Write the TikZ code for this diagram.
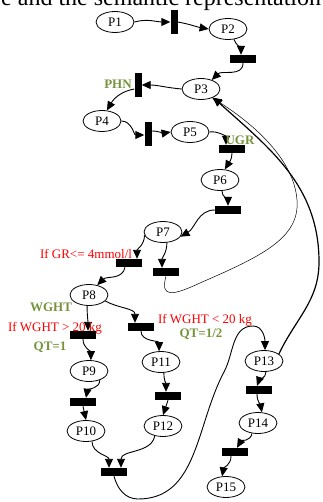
\documentclass[tikz,border=0pt]{standalone}
\usepackage{fontspec}
\setmainfont{Liberation Serif}
\usetikzlibrary{arrows.meta}
\usetikzlibrary{shapes.geometric}
\definecolor{condred}{RGB}{255,0,0}
\definecolor{vargreen}{RGB}{119,147,60}

\begin{document}
\begin{tikzpicture}[x=1pt,y=-1pt,
    pl/.style={draw,ellipse,line width=0.8pt,minimum width=38pt,minimum height=21pt,inner sep=0pt,font=\fontsize{13}{15}\selectfont},
    trh/.style={fill=black,inner sep=0pt,minimum width=26pt,minimum height=8pt},
    trv/.style={fill=black,inner sep=0pt,minimum width=7pt,minimum height=24pt},
    flow/.style={line width=0.9pt,-{Triangle[length=9pt,width=8pt]}},
    cond/.style={text=condred,inner sep=0pt,font=\fontsize{13}{15}\selectfont},
    var/.style={text=vargreen,inner sep=0pt,font=\fontsize{13}{15}\selectfont\bfseries}]
\useasboundingbox (0,0) rectangle (323,502);

\newcommand{\pnplace}[3]{
    \node[pl] (#1) at (#2) {#3};
}
\newcommand{\flowedge}[4]{
    \draw[flow] (#1) to[out=#3,in=#4] (#2);
}

% text line of the page above
\begin{scope}
\clip (0,0) rectangle (323,502);
\node[anchor=base west,inner sep=0pt,font=\fontsize{24}{28}\selectfont] (cap) at (1,6) {e and the semantic representation};
\end{scope}

% places
\pnplace{p1}{115,22}{P1}
\pnplace{p2}{228,29}{P2}
\pnplace{p3}{201,89}{P3}
\pnplace{p4}{102,121}{P4}
\pnplace{p5}{190,132}{P5}
\pnplace{p6}{220,180}{P6}
\pnplace{p7}{163,232}{P7}
\pnplace{p8}{89,295}{P8}
\pnplace{p9}{89,371}{P9}
\pnplace{p10}{86,431}{P10}
\pnplace{p11}{161,362}{P11}
\pnplace{p12}{163,426}{P12}
\pnplace{p13}{264,361}{P13}
\pnplace{p14}{258,423}{P14}
\pnplace{p15}{226,487}{P15}

% transitions
\node[trv] (t1) at (174,22) {};
\node[trh] (t2) at (243,59) {};
\node[trv] (t3) at (138,85) {};
\node[trv] (t4) at (148,134) {};
\node[trh] (t5) at (232,149) {};
\node[trh] (t6) at (228,210) {};
\node[trh] (t7a) at (129,263) {};
\node[trh] (t7b) at (166,272) {};
\node[trh] (t8a) at (83,335) {};
\node[trh] (t8b) at (141,327) {};
\node[trh] (t9) at (83,402) {};
\node[trh] (t11) at (168,396) {};
\node[trh] (t12) at (114,472) {};
\node[trh] (t13) at (259,390) {};
\node[trh] (t14) at (235,452) {};

% arcs
\flowedge{p1.east}{t1.west}{15}{180}
\flowedge{t1.east}{p2.west}{-10}{170}
\flowedge{p2.-60}{[xshift=-2pt]t2.north}{-70}{90}
\flowedge{t2.south}{p3.40}{-90}{45}
\flowedge{p3.west}{t3.east}{175}{0}
\flowedge{[yshift=-4pt]t3.west}{p4.65}{190}{60}
\flowedge{p4.east}{[yshift=-1pt]t4.west}{0}{180}
\flowedge{[yshift=3pt]t4.east}{p5.west}{0}{190}
\flowedge{p5.east}{[xshift=-6pt]t5.north}{10}{90}
\flowedge{t5.south}{p6.65}{-90}{60}
\flowedge{p6.-80}{t6.north}{-90}{90}
\flowedge{t6.west}{p7.-15}{180}{30}
\flowedge{p7.190}{[xshift=8pt]t7a.north}{-90}{90}
\flowedge{p7.-70}{[xshift=-4pt]t7b.north}{-90}{90}
\flowedge{[xshift=-4pt]t7a.south}{p8.50}{-100}{45}
\flowedge{p8.-100}{[xshift=5pt]t8a.north}{-90}{90}
\flowedge{p8.-20}{[xshift=-6pt]t8b.north}{-30}{90}
\flowedge{t8a.south}{p9.80}{-90}{90}
\flowedge{t8b.south}{p11.100}{-90}{90}
\flowedge{p9.-40}{[xshift=3pt]t9.north}{-90}{80}
\draw[flow] (t9.south) -- (p10.north);
\flowedge{p11.-75}{[xshift=-2pt]t11.north}{-90}{90}
\draw[flow] (t11.south) -- (p12.north);
\flowedge{p10.-60}{[xshift=-5pt]t12.north}{-90}{90}
\flowedge{p12.-130}{[xshift=7pt]t12.north}{-100}{90}
\flowedge{p13.-80}{[xshift=-2pt]t13.north}{-90}{70}
\flowedge{[xshift=-2pt]t13.south}{p14.70}{-90}{100}
\flowedge{p14.-120}{[xshift=2pt]t14.north}{-100}{60}
\flowedge{[xshift=-4pt]t14.south}{p15.110}{-90}{80}

% loops back to P3
\draw[line width=0.5pt,-{Triangle[length=9pt,width=8pt]}] (t7b.south)
    .. controls (160,298) and (172,296) .. (200,283)
    .. controls (262,256) and (300,238) .. (297,200)
    .. controls (294,160) and (255,125) .. (p3.-38);
\draw[line width=1.2pt,-{Triangle[length=9pt,width=8pt]}] (p13.25)
    to[out=65,in=-90] (319,262)
    to[out=90,in=-42] (p3.-35);
\draw[flow] (t12.south)
    to[out=-75,in=180] (138,499)
    to[out=0,in=-118] (224,372)
    to[out=62,in=180] (253,326)
    to[out=0,in=90] ([xshift=1pt]p13.north);

% guards and variables
\node[var] (phn) at (118,84) {PHN};
\node[var] (ugr) at (240,140) {UGR};
\node[cond] (grcond) at (86,254) {If GR<= 4mmol/l};
\node[var] (wght) at (51,307) {WGHT};
\node[cond] (wgtover) at (55,328) {If WGHT > 20 kg};
\node[var] (qtone) at (50,347) {QT=1};
\node[cond] (wgtunder) at (205,320) {If WGHT < 20 kg};
\node[var] (qthalf) at (201,334) {QT=1/2};
\end{tikzpicture}
\end{document}
